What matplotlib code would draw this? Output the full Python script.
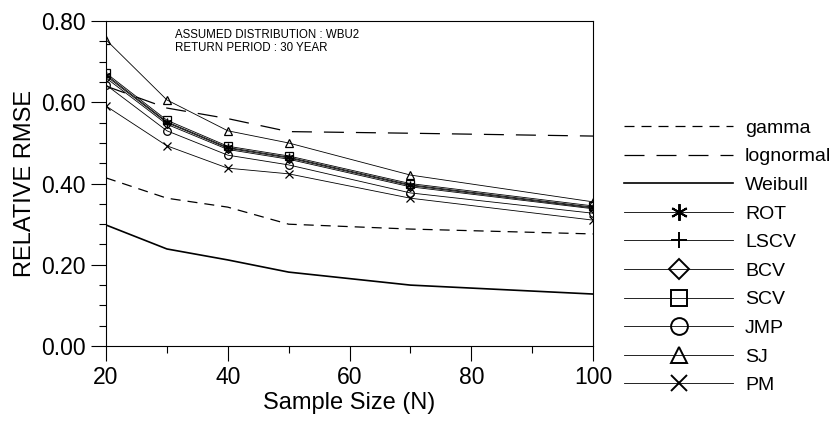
import matplotlib.pyplot as plt
from matplotlib.ticker import MultipleLocator, FormatStrFormatter

plt.rcParams['font.family'] = ['Liberation Sans', 'DejaVu Sans']

n = [20, 30, 40, 50, 70, 100]

gamma = [0.414, 0.364, 0.342, 0.300, 0.288, 0.276]
lognormal = [0.640, 0.586, 0.560, 0.528, 0.524, 0.517]
weibull = [0.298, 0.239, 0.212, 0.182, 0.150, 0.128]

rot = [0.668, 0.552, 0.489, 0.465, 0.397, 0.342]
lscv = [0.665, 0.550, 0.487, 0.463, 0.395, 0.340]
bcv = [0.660, 0.546, 0.484, 0.460, 0.392, 0.338]
scv = [0.672, 0.556, 0.492, 0.468, 0.400, 0.345]
jmp = [0.643, 0.530, 0.470, 0.446, 0.377, 0.327]
sj = [0.754, 0.606, 0.530, 0.500, 0.421, 0.355]
pm = [0.591, 0.493, 0.438, 0.424, 0.364, 0.310]

marker_series = [
    ("ROT", rot, (6, 2, 0)),
    ("LSCV", lscv, "+"),
    ("BCV", bcv, "D"),
    ("SCV", scv, "s"),
    ("JMP", jmp, "o"),
    ("SJ", sj, "^"),
    ("PM", pm, "x"),
]

fig = plt.figure(figsize=(8.31, 4.23), dpi=100)
ax = fig.add_axes([0.1276, 0.182, 0.586, 0.768])

handles = []
h, = ax.plot(n, gamma, color="black", lw=0.9, dashes=(8, 5.6), label="gamma")
handles.append(h)
h, = ax.plot(n, lognormal, color="black", lw=0.9, dashes=(16, 9.6), label="lognormal")
handles.append(h)
h, = ax.plot(n, weibull, color="black", lw=1.2, label="Weibull")
handles.append(h)

for name, vals, mk in marker_series:
    ms = 4.5 if mk == "D" else 5.5
    h, = ax.plot(n, vals, color="black", lw=0.6, marker=mk, ms=ms,
                 mfc="none", mec="black", mew=0.9, label=name)
    handles.append(h)

ax.set_xlim(20, 100)
ax.set_ylim(0, 0.8)
ax.xaxis.set_major_locator(MultipleLocator(20))
ax.xaxis.set_minor_locator(MultipleLocator(10))
ax.yaxis.set_major_locator(MultipleLocator(0.2))
ax.yaxis.set_minor_locator(MultipleLocator(0.05))
ax.yaxis.set_major_formatter(FormatStrFormatter("%.2f"))
ax.tick_params(which="major", direction="out", length=11, width=0.8, labelsize=16.5)
ax.tick_params(which="minor", direction="out", length=5, width=0.8)
for s in ax.spines.values():
    s.set_linewidth(0.8)

ax.set_xlabel("Sample Size (N)", fontsize=17, labelpad=2)
ax.set_ylabel("RELATIVE RMSE", fontsize=17, labelpad=4)

ax.text(0.142, 0.975, "ASSUMED DISTRIBUTION : WBU2\nRETURN PERIOD : 30 YEAR",
        transform=ax.transAxes, fontsize=8.3, va="top", ha="left", linespacing=1.05)

leg = fig.legend(handles=handles, loc="upper left", bbox_to_anchor=(0.751, 0.718),
                 frameon=False, fontsize=14, handlelength=5.6, handletextpad=0.62,
                 labelspacing=0.564, markerscale=2.2, borderaxespad=0, borderpad=0)
for lh in leg.legend_handles:
    lh.set_markeredgewidth(1.4)

fig.savefig("out.png", dpi=100)
